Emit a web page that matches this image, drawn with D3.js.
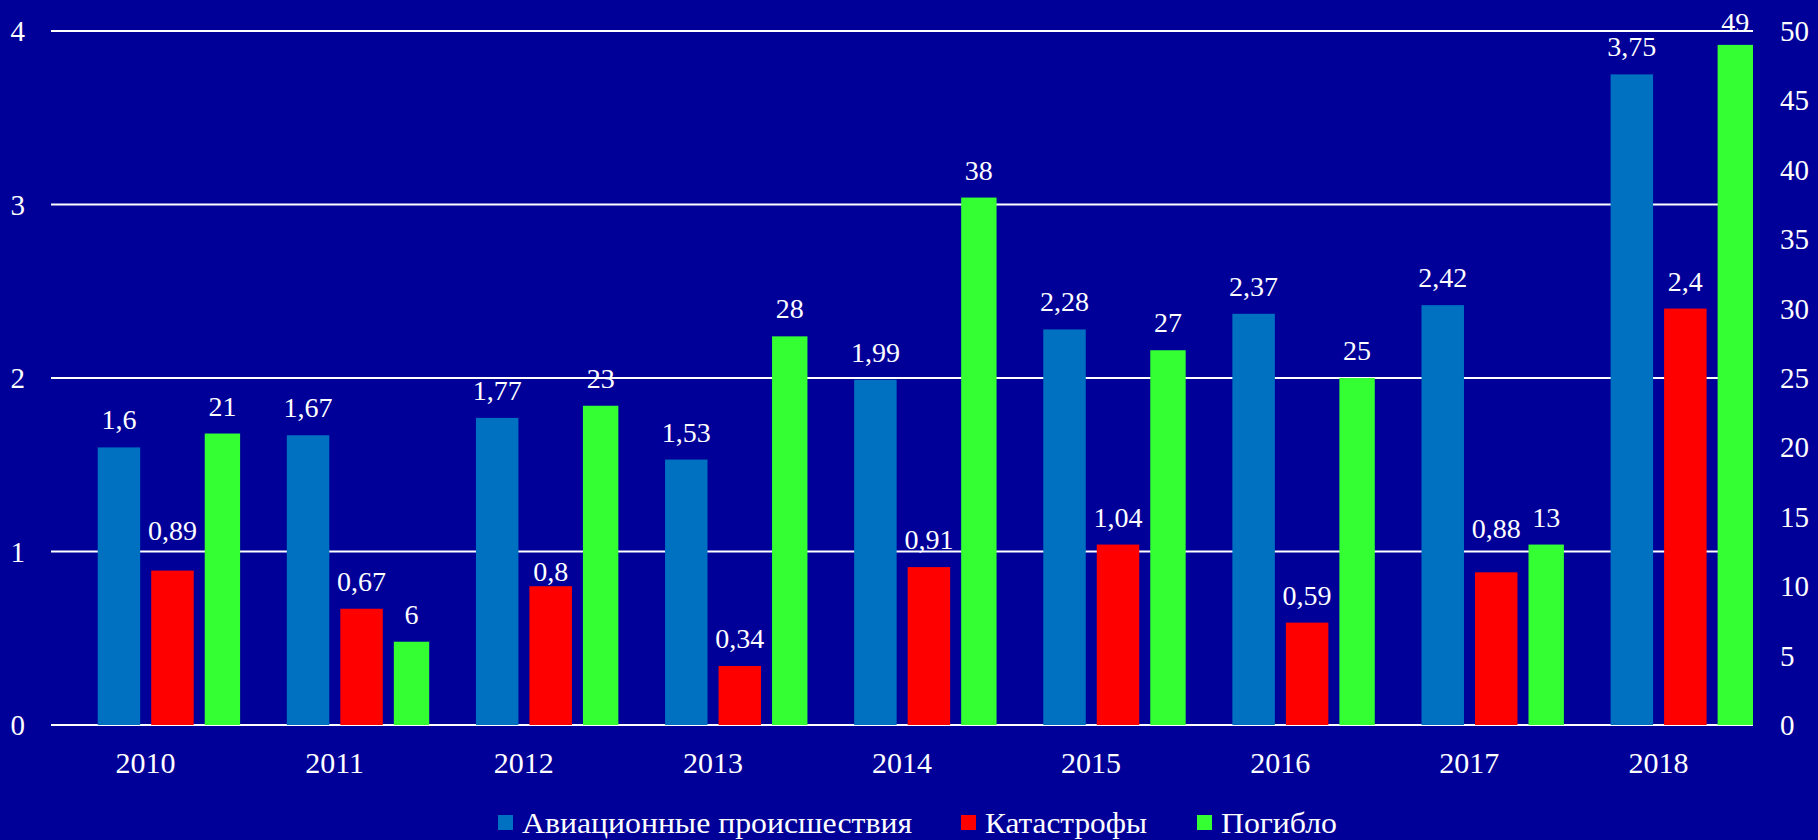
<!DOCTYPE html>
<html>
<head>
<meta charset="utf-8">
<script src="https://cdn.jsdelivr.net/npm/d3@7"></script>
<style>
  body { margin: 0; background: #000099; }
  svg { display: block; }
</style>
</head>
<body>
<div id="chart"></div>
<script>
const years = ["2010", "2011", "2012", "2013", "2014", "2015", "2016", "2017", "2018"];
const incidents = [1.6, 1.67, 1.77, 1.53, 1.99, 2.28, 2.37, 2.42, 3.75];
const crashes = [0.89, 0.67, 0.8, 0.34, 0.91, 1.04, 0.59, 0.88, 2.4];
const killed = [21, 6, 23, 28, 38, 27, 25, 13, 49];
const leftTicks = [0, 1, 2, 3, 4];
const rightTicks = [0, 5, 10, 15, 20, 25, 30, 35, 40, 45, 50];
const seriesNames = ["Авиационные происшествия", "Катастрофы", "Погибло"];

const W = 1818, H = 840;
const margin = {top: 31, right: 65, bottom: 115, left: 51};
const FONT = "Liberation Serif";

const svg = d3.select("#chart").append("svg")
  .attr("width", W).attr("height", H);

svg.append("rect").attr("width", W).attr("height", H).attr("fill", "#000099");

const x0 = d3.scaleBand().domain(years)
  .range([margin.left, W - margin.right]).padding(0);

const bw = x0.bandwidth();
const x1 = d3.scaleBand().domain(["inc", "cr", "k"])
  .range([bw * 0.247, bw * 1.0375]).paddingInner(0.206).paddingOuter(0);

const yL = d3.scaleLinear().domain([0, 4]).range([H - margin.bottom, margin.top]);
const yR = d3.scaleLinear().domain([0, 50]).range([H - margin.bottom, margin.top]);

const color = d3.scaleOrdinal().domain(["inc", "cr", "k"])
  .range(["#0070c0", "#ff0000", "#33ff33"]);

// gridlines
svg.append("g").selectAll("line").data(leftTicks).join("line")
  .attr("x1", margin.left).attr("x2", W - margin.right)
  .attr("y1", d => yL(d)).attr("y2", d => yL(d))
  .attr("stroke", "#fff").attr("stroke-width", 2);

// left axis labels
svg.append("g").selectAll("text").data(leftTicks).join("text")
  .attr("x", 25).attr("y", d => yL(d) + 10)
  .attr("text-anchor", "end").attr("fill", "#fff")
  .attr("font-family", FONT).attr("font-size", 29).text(d => d);

// right axis labels
svg.append("g").selectAll("text").data(rightTicks).join("text")
  .attr("x", 1780).attr("y", d => yR(d) + 10)
  .attr("text-anchor", "start").attr("fill", "#fff")
  .attr("font-family", FONT).attr("font-size", 29).text(d => d);

// year labels
svg.append("g").selectAll("text").data(years).join("text")
  .attr("x", d => x0(d) + bw / 2).attr("y", 773)
  .attr("text-anchor", "middle").attr("fill", "#fff")
  .attr("font-family", FONT).attr("font-size", 30).text(d => d);

const rows = [];
years.forEach((yr, i) => {
  rows.push({key: "inc", year: yr, value: incidents[i], y: yL});
  rows.push({key: "cr", year: yr, value: crashes[i], y: yL});
  rows.push({key: "k", year: yr, value: killed[i], y: yR});
});

// label nudges (px, extra lift above the default)
const nudge = {"cr-2010": 13, "cr-2012": -13, "cr-2017": 16, "k-2018": -5};

const fmt = v => String(v).replace(".", ",");
const barW = d => Math.min(x1.bandwidth(), bw - x1(d.key));

svg.append("g").selectAll("rect").data(rows).join("rect")
  .attr("x", d => x0(d.year) + x1(d.key))
  .attr("y", d => d.y(d.value))
  .attr("width", barW)
  .attr("height", d => d.y(0) - d.y(d.value))
  .attr("fill", d => color(d.key));

svg.append("g").selectAll("text").data(rows).join("text")
  .attr("x", d => x0(d.year) + x1(d.key) + barW(d) / 2)
  .attr("y", d => d.y(d.value) - 18 - (nudge[d.key + "-" + d.year] || 0))
  .attr("text-anchor", "middle").attr("fill", "#fff")
  .attr("font-family", FONT).attr("font-size", 28)
  .text(d => fmt(d.value));

// legend
const legendX = [498, 961, 1197];
const legendW = [390, 162, 116];
const legend = svg.append("g").selectAll("g").data(["inc", "cr", "k"]).join("g")
  .attr("transform", (d, i) => `translate(${legendX[i]},815)`);
legend.append("rect").attr("width", 15).attr("height", 15).attr("fill", d => color(d));
legend.append("text").attr("x", 24).attr("y", 18).attr("fill", "#fff")
  .attr("font-family", FONT).attr("font-size", 30)
  .attr("textLength", (d, i) => legendW[i]).attr("lengthAdjust", "spacingAndGlyphs")
  .text((d, i) => seriesNames[i]);
</script>
</body>
</html>
